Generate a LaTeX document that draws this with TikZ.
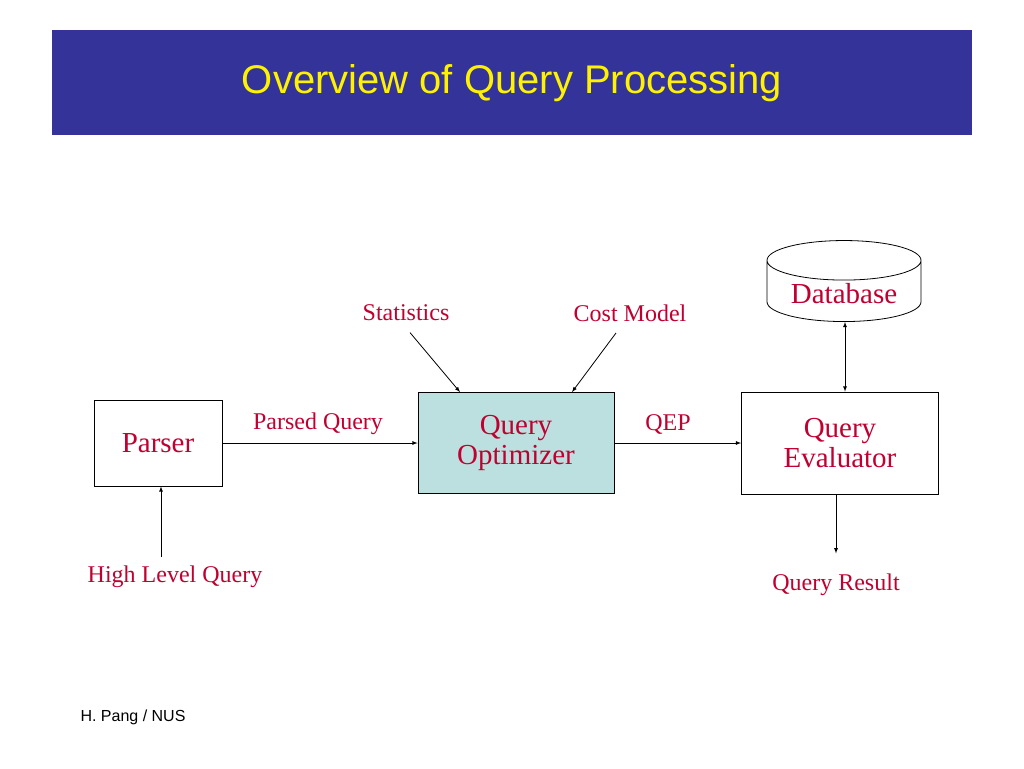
\documentclass[tikz,border=0pt]{standalone}
\usepackage{fontspec}
\setmainfont{Liberation Serif}
\newfontfamily\arialfont{Liberation Sans}
\usetikzlibrary{shapes.geometric}
\definecolor{titleblue}{HTML}{333399}
\definecolor{labelred}{HTML}{C00030}
\definecolor{optblue}{HTML}{BCE0E0}
\begin{document}
\begin{tikzpicture}
		[
		x=1pt, y=-1pt, >=latex,
		box/.style={draw, thick, minimum width=#1, text=labelred, font=\fontsize{29}{30}\selectfont, align=center},
		lab/.style={text=labelred, font=\fontsize{24}{26}\selectfont},
		conn/.style={->, thick}
		]
		\useasboundingbox (0,0) rectangle (1024,768);
		
		%Titelbalken
		\fill [titleblue] (52,30) rectangle (972,135);
		\node (title) at (512,83) {\arialfont\fontsize{40}{44}\selectfont\color{yellow}Overview of Query Processing};
		
		%Kaesten
		\node [box=128pt, minimum height=86pt] (parser) at (158,443) {Parser};
		\node [box=196pt, minimum height=101pt, fill=optblue] (opt) at (516,443) {Query\\Optimizer};
		\node [box=197pt, minimum height=102pt] (eval) at (840,443) {Query\\Evaluator};
		\node [cylinder, shape border rotate=90, draw, thick, aspect=0.35, minimum width=154pt, minimum height=72pt, text=labelred, font=\fontsize{29}{30}\selectfont] (db) at (844,294) {Database};
		
		%Beschriftungen
		\node [lab] (stat) at (406,313) {Statistics};
		\node [lab] (cost) at (630,313) {Cost Model};
		\node [lab] (parsed) at (318,424) {Parsed Query};
		\node [lab] (qep) at (668,424) {QEP};
		\node [lab] (hlq) at (175,577) {High Level Query};
		\node [lab] (res) at (836,585) {Query Result};
		\node (credit) at (133,717) {\arialfont\fontsize{16}{18}\selectfont H. Pang / NUS};
		
		%Pfeile
		\draw [conn] (stat.south) ++(4,8) -- (opt.north -| 460,0);
		\draw [conn] (cost.south) ++(-14,8) -- (opt.north -| 572,0);
		\draw [conn] (parser) -- (opt);
		\draw [conn] (opt) -- (eval);
		\draw [<->, thick] (db.south -| 845,0) -- (eval.north -| 845,0);
		\draw [conn] (eval.south -| 836,0) -- ++(0,59);
		\draw [conn] (hlq.north -| 161,0) ++(0,-6) -- (parser.south -| 161,0);
	\end{tikzpicture}
\end{document}
